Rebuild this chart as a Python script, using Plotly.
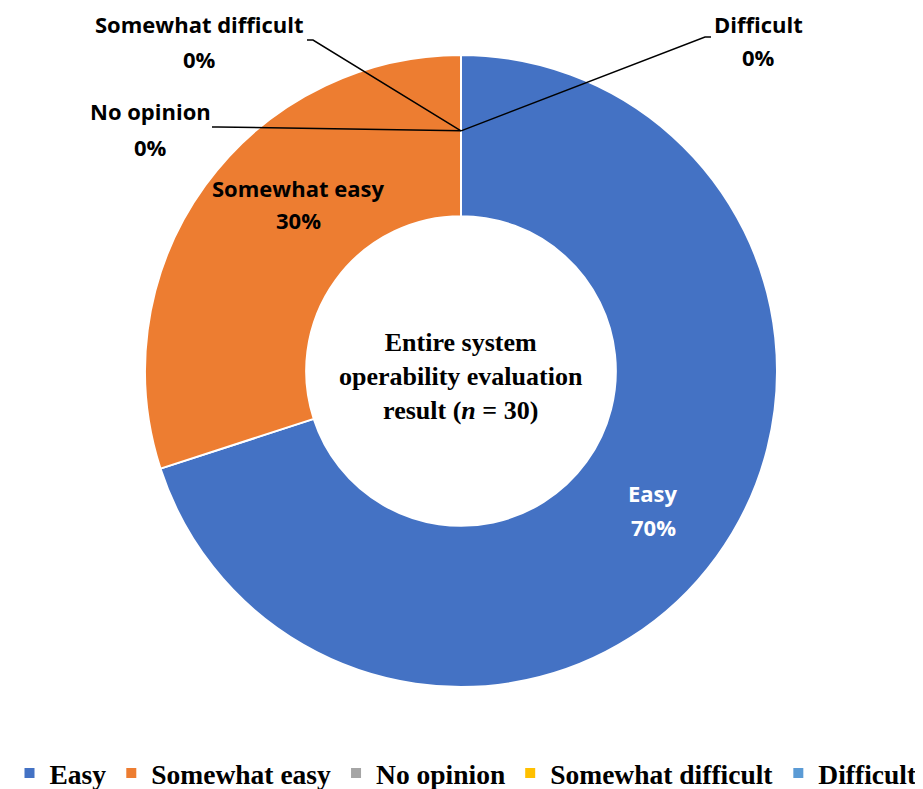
import math
import plotly.graph_objects as go

# survey answers, n = 30
labels = ["Easy", "Somewhat easy", "No opinion", "Somewhat difficult", "Difficult"]
counts = [21, 9, 0, 0, 0]
colors = ["#4472C4", "#ED7D31", "#A5A5A5", "#FFC000", "#5B9BD5"]
text_colors = ["white", "black", "black", "black", "black"]

total = sum(counts)
hole = 0.49

# page has an 8px body margin, so the figure is a bit smaller than the window
OFF = 8
W, H = 915, 781

def pt(px, py):
    # window pixel -> paper coords
    return (px - OFF) / W, 1 - (py - OFF) / H

# ring centre / outer radius in window pixels
cx, cy, R = 461, 371, 316
x0d, y1d = pt(cx - R, cy - R)
x1d, y0d = pt(cx + R, cy + R)

fig = go.Figure()
fig.add_trace(go.Pie(
    labels=labels,
    values=counts,
    hole=hole,
    sort=False,
    direction="clockwise",
    rotation=0,
    marker=dict(colors=colors, line=dict(color="white", width=2)),
    textinfo="none",
    domain=dict(x=[x0d, x1d], y=[y0d, y1d]),
    showlegend=True,
))

r_anchor = R * 0.76

# where each data label sits (pixel centres of name line / percent line)
label_pos = {
    "Easy": dict(x=653, y1=493, y2=527),
    "Somewhat easy": dict(x=298, y1=188, y2=220),
    "No opinion": dict(x=150, y1=111, y2=147),
    "Somewhat difficult": dict(x=199, y1=24, y2=59),
    "Difficult": dict(x=758, y1=24, y2=57),
}
# leader line ends for the zero slices
leader_end = {
    "No opinion": (218, 127, -6),
    "Somewhat difficult": (313, 40, -6),
    "Difficult": (705, 37, 6),
}

lab_font = dict(family="Open Sans", size=22, weight="bold")

cum = 0
for lab, c, tc in zip(labels, counts, text_colors):
    pos = label_pos[lab]
    for txt, yy in ((lab, pos["y1"]), (f"{100 * c / total:.0f}%", pos["y2"])):
        x, y = pt(pos["x"], yy)
        fig.add_annotation(x=x, y=y, xref="paper", yref="paper", text=txt,
                           xanchor="center", yanchor="middle",
                           showarrow=False, font=dict(color=tc, **lab_font))
    if c == 0:
        ang = 2 * math.pi * cum / total
        ax = cx + r_anchor * math.sin(ang)
        ay = cy - r_anchor * math.cos(ang)
        ex, ey, tail = leader_end[lab]
        xa, ya = pt(ax, ay)
        xb, yb = pt(ex, ey)
        xc, yc = pt(ex + tail, ey)
        fig.add_shape(type="path", xref="paper", yref="paper",
                      path=f"M{xa},{ya} L{xb},{yb} L{xc},{yc}",
                      line=dict(color="black", width=1.5))
    cum += c

mx, my = pt(cx, cy + 5)
fig.add_annotation(
    x=mx, y=my, xref="paper", yref="paper", showarrow=False,
    xanchor="center", yanchor="middle",
    text=f"Entire system<br>operability evaluation<br>result (<i>n</i> = {total})",
    font=dict(family="Liberation Serif", size=26, weight="bold", color="black"),
)

lx, ly = pt(466, 773)
fig.update_layout(
    width=W, height=H,
    margin=dict(l=0, r=0, t=0, b=0, autoexpand=False),
    paper_bgcolor="white",
    plot_bgcolor="white",
    legend=dict(orientation="h", x=lx, xanchor="center", y=ly, yanchor="middle",
                font=dict(family="Liberation Serif", size=27.5, weight="bold", color="black")),
)

fig.write_html("out.html")
